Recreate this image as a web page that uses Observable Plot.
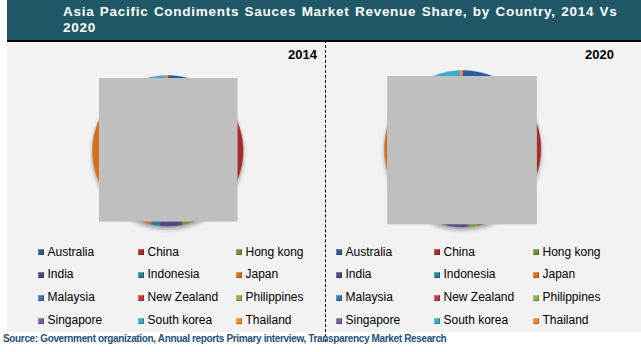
<!DOCTYPE html>
<html>
<head>
<meta charset="utf-8">
<script src="https://cdn.jsdelivr.net/npm/d3@7"></script>
<script src="https://cdn.jsdelivr.net/npm/@observablehq/plot@0.6"></script>
<style>
  html, body { margin: 0; padding: 0; background: #fff; }
  body { width: 641px; height: 352px; position: relative; overflow: hidden; font-family: "Liberation Sans", Arial, sans-serif; }
  .abs { position: absolute; }
  #title { left: 7px; top: 0; width: 634px; height: 40px; background: #215868; color: #fff; font-weight: bold; font-size: 13.5px; line-height: 16px; letter-spacing: 0.72px; word-spacing: 1px; box-sizing: border-box; padding: 4px 0 0 56px; white-space: nowrap; }
  #rule { left: 7px; top: 40px; width: 634px; height: 2px; background: #000; }
  #panel { left: 7px; top: 42px; width: 634px; height: 290px; background: #f2f2f2; }
  #divider { left: 325px; top: 40px; height: 302px; width: 0; border-left: 1.3px dashed #000; }
  .year { font-weight: bold; font-size: 13px; color: #000; }
  .leg { font-size: 12px; color: #000; white-space: nowrap; }
  .sw { position: absolute; width: 6px; height: 6px; box-shadow: inset -1px -1px 0 rgba(0,0,0,0.25), inset 1px 1px 0 rgba(255,255,255,0.25); }
  #source { left: 3px; top: 333px; font-size: 10px; font-weight: bold; color: #23507a; white-space: nowrap; letter-spacing: -0.35px; }
  .pie svg g[aria-label="line"] { filter: drop-shadow(0px 3px 2px rgba(0,0,0,0.35)); }
</style>
</head>
<body>
<div id="title" class="abs">Asia Pacific Condiments Sauces Market Revenue Share, by Country, 2014 Vs<br>2020</div>
<div id="rule" class="abs"></div>
<div id="panel" class="abs"></div>
<div id="divider" class="abs"></div>
<div id="source" class="abs">Source: Government organization, Annual reports Primary interview, Transparency Market Research</div>
<script>
// ---- data ----
const countries = ["Australia", "China", "Hong kong", "India", "Indonesia", "Japan",
                   "Malaysia", "New Zealand", "Philippines", "Singapore", "South korea", "Thailand"];
const colors = ["#2c5b9b", "#a32d2b", "#72923a", "#5a4385", "#2a7f96", "#d1701f",
                "#3f72b5", "#c43c39", "#8fb34d", "#7b5ba3", "#3aaccc", "#f0892e"];
const share2014 = [8.1, 36.7, 2.2, 4.7, 1.9, 29.7, 5.6, 2.8, 2.2, 2.8, 2.8, 0.5];
const share2020 = [9.0, 38.0, 2.0, 6.0, 2.0, 25.0, 4.0, 2.5, 2.0, 3.0, 6.0, 0.5];
const years = ["2014", "2020"];
// grey masking boxes over each pie, in units of the pie radius [x1, x2, y1, y2]
const mask2014 = [-0.907, 0.933, -0.947, 0.96];
const mask2020 = [-0.96, 0.955, -0.974, 0.923];

// ---- build pie polygons ----
function piePoints(values) {
  const arcs = d3.pie().sort(null).value(d => d)(values);
  const pts = [];
  arcs.forEach((a, i) => {
    const c = countries[i];
    pts.push({country: c, x: 0, y: 0});
    const n = Math.max(2, Math.ceil((a.endAngle - a.startAngle) / (Math.PI / 180)));
    for (let k = 0; k <= n; k++) {
      const t = a.startAngle + (a.endAngle - a.startAngle) * k / n;
      pts.push({country: c, x: Math.sin(t), y: Math.cos(t)});
    }
    pts.push({country: c, x: 0, y: 0});
  });
  return pts;
}

function drawPie(values, mask, cx, cy, r) {
  const m = 6;
  const size = 2 * r + 2 * m;
  const chart = Plot.plot({
    width: size, height: size,
    margin: m,
    x: {domain: [-1, 1], axis: null},
    y: {domain: [-1, 1], axis: null},
    color: {domain: countries, range: colors},
    style: {background: "transparent", overflow: "visible"},
    marks: [
      Plot.line(piePoints(values), {x: "x", y: "y", z: "country", fill: "country", stroke: "country", strokeWidth: 0.4, curve: "linear"}),
      Plot.rect([mask], {x1: d => d[0], x2: d => d[1], y1: d => d[2], y2: d => d[3], fill: "#bfbfbf"})
    ]
  });
  const wrap = document.createElement("div");
  wrap.className = "abs pie";
  wrap.style.left = (cx - r - m) + "px";
  wrap.style.top = (cy - r - m) + "px";
  wrap.appendChild(chart);
  document.body.appendChild(wrap);
}

drawPie(share2014, mask2014, 167.5, 150.5, 75.3);
drawPie(share2020, mask2020, 462, 148.3, 78.2);

// ---- year labels ----
[[years[0], 317], [years[1], 614]].forEach(([t, right]) => {
  const d = document.createElement("div");
  d.className = "abs year";
  d.textContent = t;
  d.style.left = (right - 40) + "px";
  d.style.width = "40px";
  d.style.textAlign = "right";
  d.style.top = "47px";
  document.body.appendChild(d);
});

// ---- legends ----
const rowY = [252, 274.5, 297.5, 320.5];
const panels = [[38, 138, 236], [336, 434, 533]];
panels.forEach(cols => {
  countries.forEach((c, i) => {
    const row = Math.floor(i / 3), col = i % 3;
    const sx = cols[col], y = rowY[row];
    const sw = document.createElement("div");
    sw.className = "sw";
    sw.style.left = sx + "px";
    sw.style.top = (y - 3) + "px";
    sw.style.background = colors[i];
    document.body.appendChild(sw);
    const lb = document.createElement("div");
    lb.className = "abs leg";
    lb.textContent = c;
    lb.style.left = (sx + 9.5) + "px";
    lb.style.top = (y - 7.5) + "px";
    document.body.appendChild(lb);
  });
});
</script>
</body>
</html>
